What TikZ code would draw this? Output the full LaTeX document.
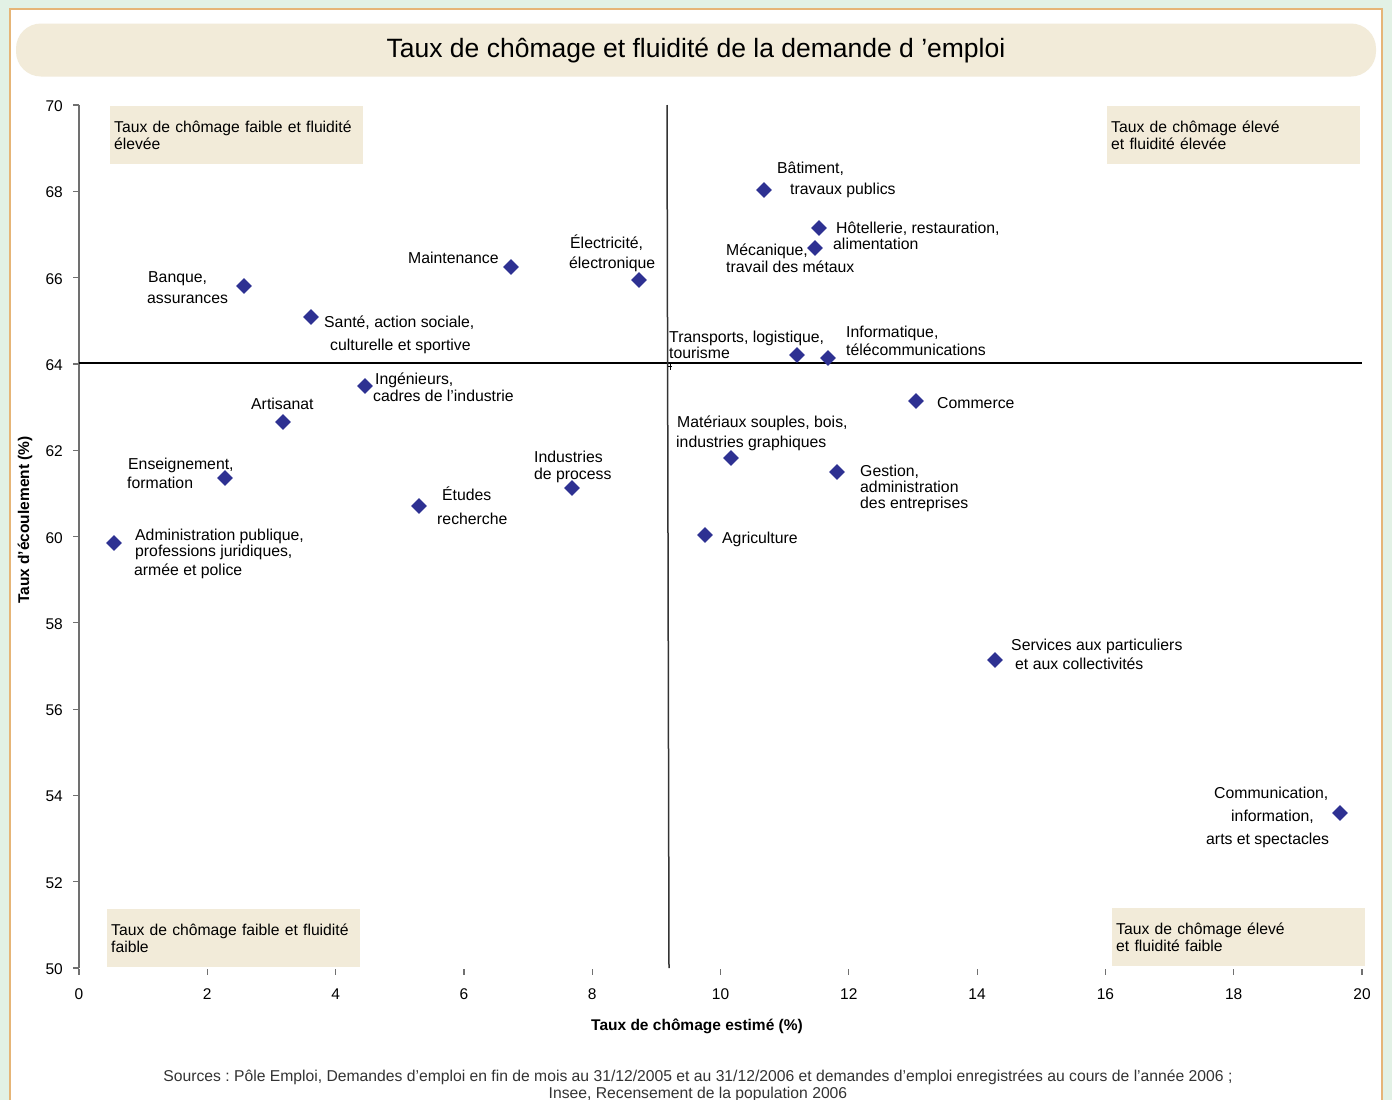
\documentclass[tikz,border=0pt]{standalone}
\usepackage{fontspec}
\setmainfont{Liberation Sans}
\usetikzlibrary{shapes.geometric}
\definecolor{bggreen}{HTML}{E2F1E5}
\definecolor{frameor}{HTML}{E6B577}
\definecolor{beige}{HTML}{F2EBD9}
\definecolor{dblue}{HTML}{2E3192}
\definecolor{axgray}{HTML}{707070}
\definecolor{srcgray}{HTML}{333333}
\frenchspacing
\begin{document}
\frenchspacing
\begin{tikzpicture}[x=1pt,y=-1pt,
  pt/.style={diamond, fill=dblue, draw=none, inner sep=0pt, minimum width=16pt, minimum height=16pt},
  lab/.style={anchor=west, inner sep=0pt, font=\fontsize{15.8}{17}\selectfont, text height=11pt, text depth=3pt, yshift=-2pt},
  qbox/.style={fill=beige, anchor=north west, inner xsep=4pt, inner ysep=0pt, align=left,
    font=\fontsize{15.7}{17.5}\selectfont, minimum width=253pt, text width=245pt, minimum height=58pt},
  titlebox/.style={fill=beige, rounded corners=25pt, minimum width=1360pt, minimum height=53pt,
    font=\fontsize{26.5}{30}\selectfont, inner sep=0pt},
  ticklab/.style={inner sep=0pt, font=\fontsize{15.5}{17}\selectfont, text height=11pt, text depth=0pt},
  axlab/.style={inner sep=0pt, font=\fontsize{15.5}{17}\selectfont\bfseries},
  srcstyle/.style={inner sep=0pt, align=center, text=srcgray, font=\fontsize{15.7}{17}\selectfont}
]
\useasboundingbox (0,0) rectangle (1392,1100);
\fill[bggreen] (0,0) rectangle (1392,1100);
\fill[white] (10,9) rectangle (1382,1100);
\draw[frameor, line width=1.2pt] (10,1100) -- (10,9) -- (1382,9) -- (1382,1100);

% title
\node[titlebox] (title) at (696,50) {Taux de chômage et fluidité de la demande d ’emploi};

% quadrant boxes
\node[qbox] (qTL) at (110,106) {Taux de chômage faible et fluidité\\élevée};
\node[qbox] (qTR) at (1107,106) {Taux de chômage élevé\\et fluidité élevée};
\node[qbox] (qBL) at (107,909) {Taux de chômage faible et fluidité\\faible};
\node[qbox] (qBR) at (1112,908) {Taux de chômage élevé\\et fluidité faible};

% y axis
\coordinate (yt) at (79,105);
\coordinate (yb) at (79,968);
\draw[axgray, line width=1.5pt] (yt) -- (yb);
\foreach \v in {50,52,...,70} {
  \pgfmathsetmacro{\py}{968-43.15*(\v-50)}
  \draw[axgray, line width=1.2pt] (73,\py) -- (79,\py);
  \node[ticklab, anchor=east] (ty\v) at (63,\py+1) {\v};
}
% x ticks
\foreach \v in {0,2,...,20} {
  \pgfmathsetmacro{\px}{79+64.15*\v}
  \draw[axgray, line width=1.2pt] (\px,969) -- (\px,975);
  \node[ticklab] (tx\v) at (\px,994) {\v};
}

% quadrant lines
\coordinate (hl) at (79,363);
\coordinate (hr) at (1362,363);
\draw[black, line width=1.1pt] (hl) -- (hr);
\coordinate (vt) at (667,105);
\coordinate (vb) at (669,968);
\draw[black!80, line width=1.5pt] (vt) -- (vb);
\coordinate (pa) at (670,362);
\coordinate (pb) at (670,370);
\coordinate (pc) at (668,366);
\coordinate (pd) at (672,366);
\draw[black, line width=0.6pt] (pa) -- (pb) (pc) -- (pd);

% axis labels
\node[axlab] (xlab) at (697,1026) {Taux de chômage estimé (\%)};
\node[axlab, rotate=90] (ylab) at (25,520) {Taux d'écoulement (\%)};

% data points
\node[pt] (pBat) at (764,190) {};
\node[pt] (pHot) at (819,228) {};
\node[pt] (pMec) at (815,248) {};
\node[pt] (pMai) at (511,267) {};
\node[pt] (pEle) at (639,280) {};
\node[pt] (pBan) at (244,286) {};
\node[pt] (pSan) at (311,317) {};
\node[pt] (pTra) at (797,355) {};
\node[pt] (pInf) at (828,358) {};
\node[pt] (pIng) at (365,386) {};
\node[pt] (pCom) at (916,401) {};
\node[pt] (pArt) at (283,422) {};
\node[pt] (pMat) at (731,458) {};
\node[pt] (pGes) at (837,472) {};
\node[pt] (pEns) at (225,478) {};
\node[pt] (pInd) at (572,488) {};
\node[pt] (pEtu) at (419,506) {};
\node[pt] (pAgr) at (705,535) {};
\node[pt] (pAdm) at (114,543) {};
\node[pt] (pSer) at (995,660) {};
\node[pt] (pCmm) at (1340,813) {};

% labels
\node[lab] (lBat1) at (777,167) {Bâtiment,};
\node[lab] (lBat2) at (790,188) {travaux publics};
\node[lab] (lHot1) at (836,227) {Hôtellerie, restauration,};
\node[lab] (lHot2) at (833,243) {alimentation};
\node[lab] (lMec1) at (726,249) {Mécanique,};
\node[lab] (lMec2) at (726,266) {travail des métaux};
\node[lab] (lMai) at (408,257) {Maintenance};
\node[lab] (lEle1) at (570,242) {Électricité,};
\node[lab] (lEle2) at (569,262) {électronique};
\node[lab] (lBan1) at (148,276) {Banque,};
\node[lab] (lBan2) at (147,297) {assurances};
\node[lab] (lSan1) at (324,321) {Santé, action sociale,};
\node[lab] (lSan2) at (330,344) {culturelle et sportive};
\node[lab] (lTra1) at (669,336) {Transports, logistique,};
\node[lab] (lTra2) at (669,352) {tourisme};
\node[lab] (lInf1) at (846,331) {Informatique,};
\node[lab] (lInf2) at (846,349) {télécommunications};
\node[lab] (lIng1) at (375,378) {Ingénieurs,};
\node[lab] (lIng2) at (373,395) {cadres de l'industrie};
\node[lab] (lCom) at (937,402) {Commerce};
\node[lab] (lArt) at (251,403) {Artisanat};
\node[lab] (lMat1) at (677,421) {Matériaux souples, bois,};
\node[lab] (lMat2) at (676,441) {industries graphiques};
\node[lab] (lGes1) at (860,470) {Gestion,};
\node[lab] (lGes2) at (860,486) {administration};
\node[lab] (lGes3) at (860,502) {des entreprises};
\node[lab] (lEns1) at (128,463) {Enseignement,};
\node[lab] (lEns2) at (127,482) {formation};
\node[lab] (lInd1) at (534,456) {Industries};
\node[lab] (lInd2) at (534,473) {de process};
\node[lab] (lEtu1) at (442,494) {Études};
\node[lab] (lEtu2) at (437,518) {recherche};
\node[lab] (lAgr) at (722,537) {Agriculture};
\node[lab] (lAdm1) at (135,534) {Administration publique,};
\node[lab] (lAdm2) at (135,550) {professions juridiques,};
\node[lab] (lAdm3) at (134,569) {armée et police};
\node[lab] (lSer1) at (1011,644) {Services aux particuliers};
\node[lab] (lSer2) at (1015,663) {et aux collectivités};
\node[lab] (lCmm1) at (1214,792) {Communication,};
\node[lab] (lCmm2) at (1231,815) {information,};
\node[lab] (lCmm3) at (1206,838) {arts et spectacles};

% sources
\node[srcstyle] (src1) at (698,1077) {Sources : Pôle Emploi, Demandes d’emploi en fin de mois au 31/12/2005 et au 31/12/2006 et demandes d’emploi enregistrées au cours de l’année 2006 ;};
\node[srcstyle] (src2) at (698,1094) {Insee, Recensement de la population 2006};
\end{tikzpicture}
\end{document}
